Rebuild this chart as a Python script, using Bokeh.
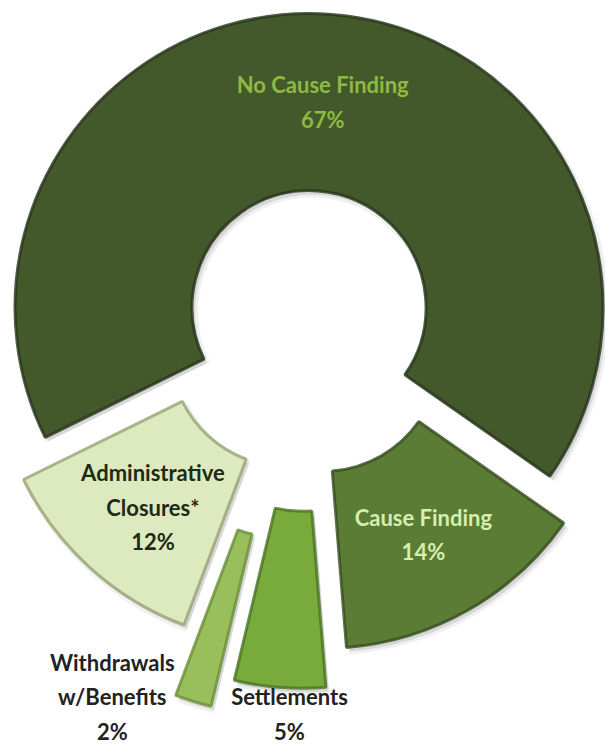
import numpy as np
from bokeh.plotting import figure
from bokeh.models import Range1d, ColumnDataSource
from bokeh.core.properties import value
from bokeh.embed import file_html
from bokeh.resources import INLINE

# ---- data ----
categories = ["No Cause Finding", "Cause Finding", "Settlements",
              "Withdrawals\nw/Benefits", "Administrative\nClosures*"]
percents = [67, 14, 5, 2, 12]

# ---- styles ----
fills = ["#44592b", "#5b7c34", "#78ab3c", "#98bf5c", "#dde9be"]
edges = ["#26331a", "#354b1e", "#4a7322", "#6c8f3a", "#97a374"]
text_colors = ["#8dbb42", "#d6eeae", "#222222", "#222222", "#1f2a14"]
explode = [20, 31, 67, 97, 30]
label_r = [206, 206, 320, 323, 207]
label_dtheta = [0.6, -0.6, 2.1, -14.1, 1.7]
first_angle = 206.2          # degrees, slices run clockwise from here
cx, cy = 307, 421
r_in, r_out = 117, 294

fr = np.array(percents, dtype=float) / sum(percents)
spans = fr * 2 * np.pi
hi = np.deg2rad(first_angle) - np.concatenate([[0], np.cumsum(spans)[:-1]])
lo = hi - spans
mid = (hi + lo) / 2
ex = np.array(explode, dtype=float)
xs = cx + ex * np.cos(mid)
ys = cy + ex * np.sin(mid)
la = mid + np.deg2rad(label_dtheta)
lx = xs + np.array(label_r) * np.cos(la)
ly = ys + np.array(label_r) * np.sin(la)
labels = [f"{c}\n{v}%" for c, v in zip(categories, percents)]

src = ColumnDataSource(dict(x=xs, y=ys, lo=lo, hi=hi, fill=fills, edge=edges,
                            lx=lx, ly=ly, label=labels, tc=text_colors))

p = figure(width=605, height=748, x_range=Range1d(0, 605), y_range=Range1d(0, 748),
           output_backend="svg", toolbar_location=None,
           x_axis_type=None, y_axis_type=None, min_border=0,
           outline_line_color=None)
p.grid.visible = False

# soft shadows
shadow = ColumnDataSource(dict(x=xs + 3, y=ys - 4, lo=lo, hi=hi))
for rr, a in [(0, 0.10), (3, 0.06)]:
    p.annular_wedge(x="x", y="y", inner_radius=r_in - rr, outer_radius=r_out + rr,
                    start_angle="lo", end_angle="hi", source=shadow,
                    fill_color="black", fill_alpha=a, line_color=None)

p.annular_wedge(x="x", y="y", inner_radius=r_in, outer_radius=r_out,
                start_angle="lo", end_angle="hi", source=src,
                fill_color="fill", line_color="edge", line_width=3, line_alpha=0.8)

p.text(x="lx", y="ly", text="label", source=src, text_color="tc",
       text_align="center", text_baseline="middle",
       text_font=value("Lato"), text_font_style="bold", text_font_size="22px",
       text_line_height=1.27)

open("out.html", "w").write(file_html(p, INLINE))
